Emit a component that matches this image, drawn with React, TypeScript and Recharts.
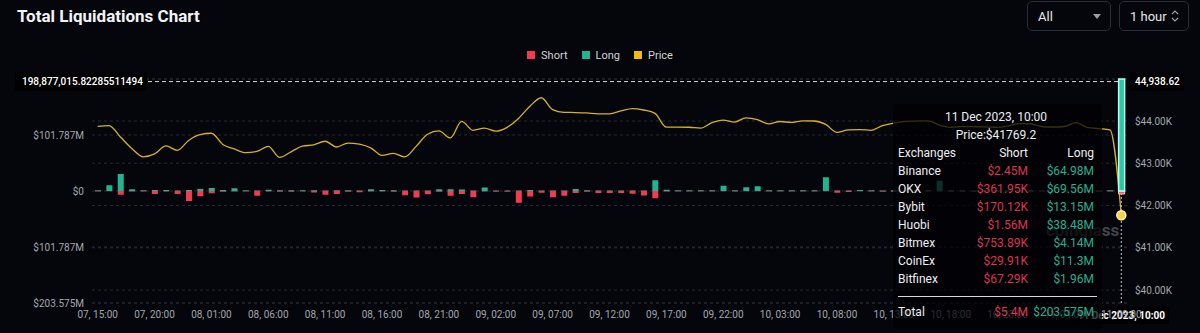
import React from "react";
import {
  ComposedChart,
  Bar,
  Line,
  XAxis,
  YAxis,
  CartesianGrid,
  Tooltip,
  Legend,
  ReferenceLine,
} from "recharts";

// hourly buckets, 07 Dec 15:00 -> 11 Dec 09:00
const hours = [
  "07, 15:00", "07, 16:00", "07, 17:00", "07, 18:00", "07, 19:00", "07, 20:00", "07, 21:00", "07, 22:00", "07, 23:00",
  "08, 00:00", "08, 01:00", "08, 02:00", "08, 03:00", "08, 04:00", "08, 05:00", "08, 06:00", "08, 07:00", "08, 08:00",
  "08, 09:00", "08, 10:00", "08, 11:00", "08, 12:00", "08, 13:00", "08, 14:00", "08, 15:00", "08, 16:00", "08, 17:00",
  "08, 18:00", "08, 19:00", "08, 20:00", "08, 21:00", "08, 22:00", "08, 23:00",
  "09, 00:00", "09, 01:00", "09, 02:00", "09, 03:00", "09, 04:00", "09, 05:00", "09, 06:00", "09, 07:00", "09, 08:00",
  "09, 09:00", "09, 10:00", "09, 11:00", "09, 12:00", "09, 13:00", "09, 14:00", "09, 15:00", "09, 16:00", "09, 17:00",
  "09, 18:00", "09, 19:00", "09, 20:00", "09, 21:00", "09, 22:00", "09, 23:00",
  "10, 00:00", "10, 01:00", "10, 02:00", "10, 03:00", "10, 04:00", "10, 05:00", "10, 06:00", "10, 07:00", "10, 08:00",
  "10, 09:00", "10, 10:00", "10, 11:00", "10, 12:00", "10, 13:00", "10, 14:00", "10, 15:00", "10, 16:00", "10, 17:00",
  "10, 18:00", "10, 19:00", "10, 20:00", "10, 21:00", "10, 22:00", "10, 23:00",
  "11, 00:00", "11, 01:00", "11, 02:00", "11, 03:00", "11, 04:00", "11, 05:00", "11, 06:00", "11, 07:00", "11, 08:00",
  "11, 09:00",
];

// long liquidations, $M
const longM = [
  1.5, 10.4, 31, 3, 1.5, 2, 2, 0.8, 1.8, 3.6, 5.5, 1.8, 4.8, 1.5, 0.8, 2.4, 1.5, 1.5, 1.5, 1.2,
  0.8, 1.5, 1.2, 0.8, 3, 1.8, 1.2, 0.8, 1, 1, 3.3, 3.3, 2.7, 0.8, 6.3, 0.8, 0.8, 0.8, 1.8, 0.8,
  1, 1, 3.6, 1.2, 0.8, 0.8, 0.8, 0.8, 0.8, 19.5, 2.4, 1.5, 1.5, 1.5, 1.5, 9.7, 1.5, 6.7, 8.5, 1.5,
  1.5, 1.5, 1.5, 1.5, 25.2, 0.8, 0.8, 1.8, 1.2, 1, 1.2, 1, 1.2, 1.2, 18.7, 1.2, 1.5, 1, 1.2, 1.5,
  1, 1.2, 1.5, 1, 1.2, 1.5, 1, 1.2, 1, 1.5, 203.575,
];

// short liquidations, $M
const shortM = [
  0.8, 0.5, 6.7, 0.8, 1, 5.5, 1, 5.5, 18, 9.7, 4.2, 1.2, 0.8, 1, 8.5, 0.8, 1.2, 1.2, 0.8, 2.5,
  6.7, 5.5, 1.2, 2.4, 0.8, 0.8, 1.2, 7.5, 12, 5.8, 1.5, 8.8, 5.5, 11.2, 0.8, 1.5, 1.5, 21.5, 10.2, 3,
  11.5, 8.8, 3.5, 1.2, 3.5, 3.6, 3.6, 4.8, 8.2, 13.3, 1, 0.8, 0.8, 0.8, 0.8, 0.6, 0.8, 0.6, 0.6, 0.8,
  0.8, 0.8, 0.8, 0.8, 0.6, 3, 1.8, 0.6, 1, 1.5, 1.2, 1.5, 1, 1, 1, 1.5, 1.2, 1.5, 1, 1.2,
  1.5, 1, 1.2, 1, 1.5, 1.2, 1, 1.5, 1.2, 1, 5.4,
];

// BTC price, $
const price = [
  43875, 43890, 43620, 43350, 43150, 43220, 43410, 43305, 43540, 43676, 43710, 43445, 43340, 43250, 43280,
  43400, 43140, 43270, 43405, 43435, 43520, 43385, 43478, 43450, 43365, 43185, 43235, 43150, 43400, 43685,
  43765, 43600, 43990, 43780, 43830, 43760, 43850, 44060, 44350, 44550, 44270, 44205, 44200, 44190, 44170,
  44170, 44240, 44295, 44260, 44180, 43855, 43855, 43852, 43830, 43960, 44020, 43975, 44075, 44035, 43930,
  43988, 43965, 44005, 44000, 43920, 43730, 43790, 43795, 43780, 43890, 43950, 43990, 43998, 44005, 43900,
  43850, 43870, 43865, 43860, 43852, 43880, 43940, 43935, 43870, 43858, 43870, 43960, 43850, 43820, 43790,
  41769.2,
];

const leftTicks = [-203.575, -101.7875, 0, 101.7875];
const rightTicks = [40000, 41000, 42000, 43000, 44000];

const exchanges = ["Binance", "OKX", "Bybit", "Huobi", "Bitmex", "CoinEx", "Bitfinex"];
const exShort = ["$2.45M", "$361.95K", "$170.12K", "$1.56M", "$753.89K", "$29.91K", "$67.29K"];
const exLong = ["$64.98M", "$69.56M", "$13.15M", "$38.48M", "$4.14M", "$11.3M", "$1.96M"];
const totalShort = "$5.4M";
const totalLong = "$203.575M";
const tipTitle = "11 Dec 2023, 10:00";

const crossLeft = 198.87701582285511494;
const crossLeftText = "198,877,015.82285511494";
const crossRightText = "44,938.62";

const BG = "#05060b";
const RED = "#f23a55";
const GREEN = "#20b592";
const PRICE = "#d4b12a";
const legendOrder = ["short", "long", "price"];
const legendColors: Record<string, string> = { short: RED, long: GREEN, price: "#f0b90b" };

const rows = hours.map((h, i) => ({
  time: h,
  short: -shortM[i],
  long: longM[i],
  price: price[i],
}));

const fmtLeft = (v: number) =>
  v === 0 ? "$0" : `$${(Math.floor(Math.abs(v) * 1000 + 1e-6) / 1000).toFixed(3)}M`;
const fmtRight = (v: number) => `$${(v / 1000).toFixed(2)}K`;

function LegendContent(props: any) {
  const items = [...(props.payload || [])].sort(
    (a: any, b: any) => legendOrder.indexOf(a.dataKey) - legendOrder.indexOf(b.dataKey)
  );
  return (
    <div style={{ display: "flex", justifyContent: "center", alignItems: "center", height: 16, fontSize: 11, color: "#d0d3d8" }}>
      {items.map((it: any) => (
        <div key={it.dataKey} style={{ display: "flex", alignItems: "center", margin: "0 7px" }}>
          <span style={{ width: 8, height: 8, background: legendColors[it.dataKey], marginRight: 6 }} />
          <span>{it.value}</span>
        </div>
      ))}
    </div>
  );
}

function TipContent({ active, payload }: any) {
  if (!active || !payload || !payload.length) return null;
  const p = payload[0].payload.price;
  const cell: React.CSSProperties = { height: 18, lineHeight: "18px", whiteSpace: "nowrap" };
  return (
    <div
      style={{
        width: 196,
        padding: "4px 8px 8px 5px",
        background: "rgba(1,2,5,0.74)",
        borderRadius: 4,
        fontSize: 12,
        color: "#eceef0",
        fontFamily: "Roboto, sans-serif",
      }}
    >
      <div style={{ ...cell, textAlign: "center" }}>{tipTitle}</div>
      <div style={{ ...cell, textAlign: "center" }}>Price:${p}</div>
      <div style={{ display: "grid", gridTemplateColumns: "60px 70px 66px" }}>
        <div style={cell}>Exchanges</div>
        <div style={{ ...cell, textAlign: "right" }}>Short</div>
        <div style={{ ...cell, textAlign: "right" }}>Long</div>
        {exchanges.map((ex, i) => (
          <React.Fragment key={ex}>
            <div style={cell}>{ex}</div>
            <div style={{ ...cell, textAlign: "right", color: "#dc3550" }}>{exShort[i]}</div>
            <div style={{ ...cell, textAlign: "right", color: "#26b08f" }}>{exLong[i]}</div>
          </React.Fragment>
        ))}
      </div>
      <div style={{ height: 1, background: "#d8d8d8", margin: "8px -3px 6px 0" }} />
      <div style={{ display: "grid", gridTemplateColumns: "60px 70px 66px" }}>
        <div style={cell}>Total</div>
        <div style={{ ...cell, textAlign: "right", color: "#dc3550" }}>{totalShort}</div>
        <div style={{ ...cell, textAlign: "right", color: "#26b08f" }}>{totalLong}</div>
      </div>
    </div>
  );
}

function CrossYLabel(props: any) {
  const vb = props.viewBox || {};
  const y = vb.y;
  const right = vb.x + vb.width;
  return (
    <g>
      <rect x={vb.x - 77} y={y - 9} width={132} height={18} fill="#000" />
      <text x={vb.x - 70} y={y} dy="0.35em" fill="#ffffff" fontSize={10} fontWeight={500}>
        {crossLeftText}
      </text>
      <rect x={right + 3} y={y - 9} width={54} height={18} fill="#000" />
      <text x={right + 8} y={y} dy="0.35em" fill="#ffffff" fontSize={10} fontWeight={500}>
        {crossRightText}
      </text>
    </g>
  );
}

function CrossXLabel(props: any) {
  const vb = props.viewBox || {};
  const x = vb.x;
  const bottom = vb.y + vb.height;
  return (
    <g>
      <rect x={x - 48} y={bottom + 3} width={96} height={18} fill="#000" />
      <text x={x} y={bottom + 12} dy="0.35em" textAnchor="middle" fill="#ffffff" fontSize={10} fontWeight={700}>
        {tipTitle}
      </text>
    </g>
  );
}

function Select({ left, width, label, icon }: { left: number; width: number; label: string; icon: React.ReactNode }) {
  return (
    <div
      style={{
        position: "absolute",
        left,
        top: 1,
        width,
        height: 30,
        boxSizing: "border-box",
        border: "1px solid #2a2e36",
        borderRadius: 5,
        display: "flex",
        alignItems: "center",
        justifyContent: "space-between",
        padding: "0 9px 0 10px",
        color: "#e6e8ea",
        fontSize: 13,
      }}
    >
      <span>{label}</span>
      {icon}
    </div>
  );
}

export default function App() {
  return (
    <div style={{ position: "relative", width: 1200, height: 333, background: BG, fontFamily: "Roboto, sans-serif", overflow: "hidden" }}>
      <style>{`body{margin:0;background:${BG}}`}</style>
      <div style={{ position: "absolute", left: 17, top: 5, fontSize: 17, fontWeight: 700, color: "#f2f3f5", lineHeight: "22px" }}>
        Total Liquidations Chart
      </div>
      <Select
        left={1027}
        width={84}
        label="All"
        icon={
          <svg width="8" height="5" viewBox="0 0 8 5">
            <path d="M0 0 L8 0 L4 5 Z" fill="#9a9ea6" />
          </svg>
        }
      />
      <Select
        left={1119}
        width={70}
        label="1 hour"
        icon={
          <svg width="8" height="12" viewBox="0 0 8 12">
            <path d="M1 4 L4 1 L7 4 M1 8 L4 11 L7 8" stroke="#9a9ea6" strokeWidth="1.2" fill="none" />
          </svg>
        }
      />
      <div style={{ position: "absolute", left: 1046, top: 220, fontSize: 17, fontWeight: 700, color: "rgba(120,124,130,0.55)" }}>
        coinglass
      </div>
      <div style={{ position: "absolute", left: 0, top: 0 }}>
        <ComposedChart
          width={1200}
          height={333}
          data={rows}
          stackOffset="sign"
          margin={{ top: 79, right: 0, bottom: 0, left: 0 }}
          style={{ fontFamily: "Roboto, sans-serif" }}
        >
          <CartesianGrid yAxisId="left" vertical={false} stroke="#252932" strokeDasharray="3 3" />
          <CartesianGrid yAxisId="right" vertical={false} stroke="#252932" strokeDasharray="3 3" />
          <XAxis
            dataKey="time"
            interval={4}
            height={30}
            axisLine={false}
            tickLine={false}
            tick={{ fill: "#a3a7ae", fontSize: 10 }}
          />
          <YAxis
            yAxisId="left"
            orientation="left"
            width={92}
            domain={[-203.575, 203.575]}
            ticks={leftTicks}
            allowDataOverflow
            axisLine={false}
            tickLine={false}
            tickFormatter={fmtLeft}
            tick={{ fill: "#a3a7ae", fontSize: 10 }}
          />
          <YAxis
            yAxisId="right"
            orientation="right"
            width={73}
            domain={[39692, 44994]}
            ticks={rightTicks}
            allowDataOverflow
            axisLine={false}
            tickLine={false}
            tickFormatter={fmtRight}
            tick={{ fill: "#a3a7ae", fontSize: 10 }}
          />
          <Legend
            layout="horizontal"
            align="center"
            verticalAlign="middle"
            wrapperStyle={{ top: 47, left: 0, width: 1200 }}
            content={<LegendContent />}
          />
          <Bar
            yAxisId="left"
            dataKey="short"
            name="Short"
            stackId="liq"
            fill={RED}
            barSize={6}
            isAnimationActive={false}
            activeBar={{ fill: "#ff4d66", stroke: "#ffc4cc", strokeWidth: 1 }}
          />
          <Bar
            yAxisId="left"
            dataKey="long"
            name="Long"
            stackId="liq"
            fill={GREEN}
            barSize={6}
            isAnimationActive={false}
            activeBar={{ fill: "#2cc7a3", stroke: "#b6fff0", strokeWidth: 1.5 }}
          />
          <Line
            yAxisId="right"
            type="monotone"
            dataKey="price"
            name="Price"
            stroke={PRICE}
            strokeWidth={1.3}
            dot={false}
            activeDot={{ r: 4.5, fill: "#f3d34a", stroke: "#fff4b8", strokeWidth: 1.5 }}
            isAnimationActive={false}
          />
          <ReferenceLine
            yAxisId="left"
            y={crossLeft}
            stroke="#d8d8d8"
            strokeDasharray="4 3"
            label={<CrossYLabel />}
          />
          <ReferenceLine
            yAxisId="left"
            x={hours[hours.length - 1]}
            stroke="#c8c8c8"
            strokeDasharray="2 2"
            label={<CrossXLabel />}
          />
          <Tooltip
            defaultIndex={hours.length - 1}
            cursor={false}
            position={{ x: 893, y: 104 }}
            allowEscapeViewBox={{ x: true, y: true }}
            isAnimationActive={false}
            wrapperStyle={{ outline: "none", zIndex: 5 }}
            content={<TipContent />}
          />
        </ComposedChart>
      </div>
    </div>
  );
}
